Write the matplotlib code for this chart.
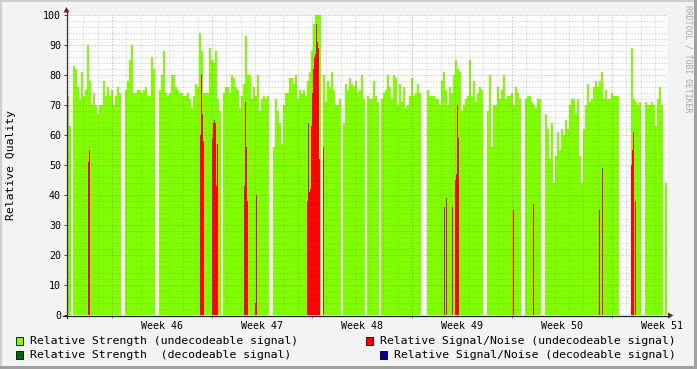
import numpy as np
import matplotlib
matplotlib.use('Agg')
import matplotlib.pyplot as plt
from matplotlib.patches import Rectangle, Polygon
from matplotlib.lines import Line2D

# ---------------- data ----------------
# time axis: days relative to the start of "Week 46" label position
x_start_day = -6.65
x_end_day = 35.35
green_step_day = 0.14          # sampling interval of the strength series (days)
week_labels = ["Week 46", "Week 47", "Week 48", "Week 49", "Week 50", "Week 51"]
week_label_days = [0, 7, 14, 21, 28, 35]
week_grid_days = [-3.5, 3.5, 10.5, 17.5, 24.5, 31.5]
y_ticks = [0, 10, 20, 30, 40, 50, 60, 70, 80, 90, 100]

# Relative Strength (undecodeable signal); 0 = no data
strength_undec = [
    73, 63, 0, 83, 82, 76, 72, 81, 73, 75,
    90, 78, 70, 74, 70, 67, 70, 70, 78, 73,
    76, 73, 75, 70, 73, 76, 74, 0, 0, 75,
    78, 85, 90, 74, 74, 75, 75, 74, 75, 76,
    73, 73, 86, 82, 0, 0, 75, 80, 88, 74,
    73, 74, 80, 80, 76, 75, 74, 74, 73, 73,
    74, 72, 69, 73, 77, 76, 94, 88, 74, 74,
    74, 89, 85, 84, 88, 72, 68, 0, 74, 76,
    76, 74, 80, 79, 76, 75, 69, 73, 77, 93,
    80, 80, 72, 76, 73, 80, 68, 72, 73, 72,
    73, 0, 0, 56, 72, 68, 64, 57, 70, 74,
    74, 79, 79, 77, 80, 72, 75, 74, 75, 73,
    78, 81, 88, 97, 100, 100, 100, 0, 80, 71,
    78, 76, 81, 75, 70, 70, 72, 0, 64, 77,
    75, 79, 77, 76, 78, 74, 75, 80, 72, 0,
    73, 72, 72, 78, 73, 71, 0, 72, 74, 75,
    80, 76, 72, 80, 79, 70, 77, 71, 76, 69,
    70, 73, 79, 73, 74, 77, 74, 0, 0, 0,
    75, 73, 73, 73, 72, 72, 70, 78, 81, 75,
    70, 76, 74, 80, 85, 82, 81, 68, 70, 72,
    73, 85, 73, 78, 71, 74, 76, 75, 0, 0,
    68, 80, 56, 70, 70, 76, 72, 75, 80, 72,
    73, 73, 74, 70, 76, 74, 72, 0, 0, 72,
    73, 73, 71, 70, 69, 72, 72, 0, 0, 67,
    62, 52, 64, 44, 53, 61, 55, 62, 60, 65,
    62, 70, 72, 72, 67, 72, 53, 44, 62, 70,
    77, 71, 72, 76, 78, 76, 78, 81, 72, 75,
    72, 72, 74, 73, 73, 73, 0, 0, 0, 0,
    0, 0, 89, 72, 71, 70, 71, 0, 0, 71,
    70, 70, 71, 70, 63, 72, 76, 70, 0, 44,
]

# Relative Signal/Noise (undecodeable signal): sparse samples
sn_undec_days = [
    -5.18, -5.11,
    2.66, 2.73, 2.80, 2.87,
    3.50, 3.57, 3.64, 3.71, 3.78, 3.85,
    5.74, 5.81, 5.88, 5.95,
    6.51, 6.58,
    10.15, 10.22, 10.29, 10.36, 10.43, 10.50, 10.57, 10.64, 10.71, 10.78,
    10.85, 10.92, 10.99, 11.27,
    19.74, 19.88, 20.30, 20.51, 20.58, 20.65, 20.72,
    24.57, 25.97, 30.59, 30.80,
    32.83, 32.90, 32.97, 33.11,
]
sn_undec_vals = [
    51, 55,
    60, 80, 67, 58,
    59, 64, 65, 64, 43, 57,
    43, 71, 56, 38,
    4, 40,
    38, 64, 41, 42, 63, 74, 82, 86, 87, 97,
    91, 89, 52, 56,
    36, 39, 36, 45, 47, 70, 59,
    35, 37, 35, 49,
    50, 55, 61, 38,
]
sn_step_day = 0.07

legend_labels = [
    "Relative Strength (undecodeable signal)",
    "Relative Strength  (decodeable signal)",
    "Relative Signal/Noise (undecodeable signal)",
    "Relative Signal/Noise (decodeable signal)",
]
col_green = '#80FF00'
col_dgreen = '#006600'
col_red = '#FF0000'
col_blue = '#000099'

# ---------------- figure ----------------
W, H = 697, 369
fig = plt.figure(figsize=(W / 100, H / 100), dpi=100)
fig.patch.set_facecolor('#F3F3F3')


def fx(px):
    return px / W


def fy(py):
    return 1 - py / H


# 3D-ish frame
fig.add_artist(Rectangle((0, fy(2)), 1, 2 / H, transform=fig.transFigure, color='#CFCFCF', lw=0))
fig.add_artist(Rectangle((0, 0), 2 / W, 1, transform=fig.transFigure, color='#CFCFCF', lw=0))
fig.add_artist(Rectangle((0, 0), 1, 3 / H, transform=fig.transFigure, color='#A0A0A0', lw=0))
fig.add_artist(Rectangle((fx(W - 3), 0), 3 / W, 1, transform=fig.transFigure, color='#A0A0A0', lw=0))

ax = fig.add_axes([fx(67), fy(315), 600 / W, 300 / H])
ax.set_facecolor('white')
ax.set_xlim(x_start_day, x_end_day)
ax.set_ylim(0, 100)
for s in ax.spines.values():
    s.set_visible(False)

g = np.array(strength_undec, dtype=float)
gt = x_start_day + green_step_day * np.arange(len(g))
ax.bar(gt, g, width=green_step_day, align='edge', color=col_green, linewidth=0,
       antialiased=False, zorder=2)
ax.bar(sn_undec_days, sn_undec_vals, width=sn_step_day, align='edge', color=col_red,
       linewidth=0, antialiased=False, zorder=2.5)

# grid
minor_kw = dict(color='#808080', alpha=0.45, lw=0.72, ls=(0, (1, 2)), zorder=3)
major_kw = dict(color='#B04040', alpha=0.5, lw=0.72, ls=(0, (1, 2)), zorder=3.1)
for yv in range(2, 100, 2):
    if yv % 10:
        ax.axhline(yv, **minor_kw)
for yv in range(10, 101, 10):
    ax.axhline(yv, **major_kw)
d = week_grid_days[0] - 3
while d < x_end_day:
    if d > x_start_day and (abs((d - week_grid_days[0]) % 7) > 1e-6):
        ax.axvline(d, **minor_kw)
    d += 1
for wd in week_grid_days:
    ax.axvline(wd, **major_kw)

mono = 'DejaVu Sans Mono'
ax.set_xticks(week_label_days)
ax.set_xticklabels(week_labels, fontsize=7.2, family=mono)
ax.tick_params(axis='x', length=0, pad=4.5)
ax.set_xticks(week_grid_days, minor=True)
ax.tick_params(axis='x', which='minor', length=2.2, width=0.7, color='#B07070', direction='out')
ax.set_yticks(y_ticks)
ax.set_yticklabels([str(v) for v in y_ticks], fontsize=7.2, family=mono)
ax.tick_params(axis='y', length=2.2, width=0.7, color='#404040', pad=2.2)

# axis lines with arrows
fig.add_artist(Line2D([fx(66.5), fx(66.5)], [fy(318), fy(12)], transform=fig.transFigure,
                      color='#303030', lw=0.9))
fig.add_artist(Line2D([fx(63), fx(669)], [fy(315.5), fy(315.5)], transform=fig.transFigure,
                      color='#202030', lw=0.9))
fig.add_artist(Polygon([[fx(63.5), fy(12.5)], [fx(69.5), fy(12.5)], [fx(66.5), fy(7)]],
                       closed=True, transform=fig.transFigure, color='#7F1F1F', lw=0))
fig.add_artist(Polygon([[fx(668), fy(312.5)], [fx(668), fy(318.5)], [fx(673.5), fy(315.5)]],
                       closed=True, transform=fig.transFigure, color='#7F1F1F', lw=0))

# labels
fig.text(fx(11), fy(165), "Relative Quality", rotation=90, ha='center', va='center',
         fontsize=8.2, family=mono, color='black')
fig.text(fx(688), fy(59), "RRDTOOL / TOBI OETIKER", rotation=270, ha='center', va='center',
         fontsize=5.9, family=mono, color='#A8A8A8')

# legend
legend_items = [
    (15.5, 337, 30, 341, legend_labels[0], col_green),
    (15.5, 351, 30, 355, legend_labels[1], col_dgreen),
    (365.5, 337, 380, 341, legend_labels[2], col_red),
    (379.5, 351, 394, 355, legend_labels[3], col_blue),
]
for sx, sy, tx, ty, lab, c in legend_items:
    fig.add_artist(Rectangle((fx(sx), fy(sy + 8)), 7.5 / W, 8 / H, transform=fig.transFigure,
                             facecolor=c, edgecolor='black', lw=0.6))
    fig.text(fx(tx), fy(ty), lab, ha='left', va='center', fontsize=8.25, family=mono,
             color='black')

fig.savefig('out.png', dpi=100, facecolor=fig.get_facecolor())
